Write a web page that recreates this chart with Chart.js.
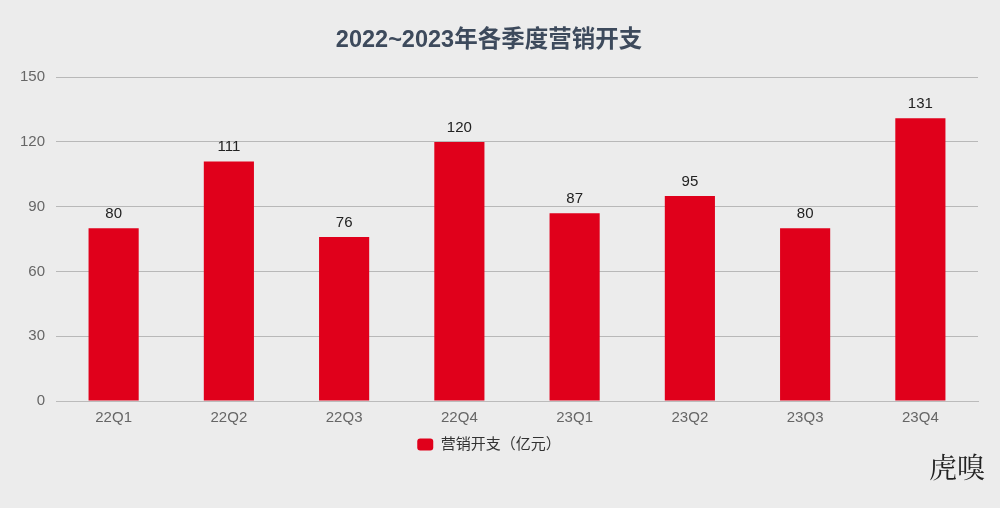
<!DOCTYPE html>
<html><head><meta charset="utf-8">
<script src="https://cdn.jsdelivr.net/npm/chart.js@4"></script>
<style>
html,body{margin:0;padding:0;background:#ececec;}
#wrap{position:relative;width:1000px;height:508px;}
#wm{position:absolute;left:929px;top:446px;font-family:"Noto Serif CJK SC","Noto Sans CJK SC",serif;font-size:28px;color:#222;}
</style></head><body>
<div id="wrap"><canvas id="c" width="1000" height="508"></canvas><div id="wm">虎嗅</div></div>
<script>
const categories=["22Q1","22Q2","22Q3","22Q4","23Q1","23Q2","23Q3","23Q4"];
const values=[80,111,76,120,87,95,80,131];
const yTicks=[0,30,60,90,120,150];
const font='"Liberation Sans","Noto Sans CJK SC",sans-serif';
const labelPlugin={id:'lbl',afterDatasetsDraw(ch){const ctx=ch.ctx;const m=ch.getDatasetMeta(0);ctx.save();ctx.font='15px '+font;ctx.fillStyle='#222';ctx.textAlign='center';ctx.textBaseline='bottom';m.data.forEach((b,i)=>ctx.fillText(values[i],b.x,b.y-7));ctx.restore();}};
new Chart(document.getElementById('c'),{type:'bar',
data:{labels:categories,datasets:[{label:'营销开支（亿元）',data:values,backgroundColor:'#e0001b',barPercentage:0.87,categoryPercentage:0.5}]},
options:{responsive:false,animation:false,
layout:{padding:{left:0,right:22,top:0,bottom:46}},
plugins:{title:{display:true,text:'2022~2023年各季度营销开支',color:'#3d4a5c',font:{family:font,size:23.5,weight:'bold'},padding:{top:26,bottom:23}},
legend:{position:'bottom',labels:{color:'#333',font:{family:font,size:15},boxWidth:16,boxHeight:12,useBorderRadius:true,borderRadius:3,padding:10}},tooltip:{enabled:false}},
scales:{x:{grid:{display:false},border:{color:'#bbb'},ticks:{color:'#666',font:{family:font,size:15},padding:0}},
y:{min:0,max:150,afterFit(s){s.width=56;},afterBuildTicks(s){s.ticks=yTicks.map(v=>({value:v}));},
grid:{color:'#b8b8b8',drawTicks:false},border:{display:false},ticks:{color:'#666',font:{family:font,size:15},padding:11}}}},
plugins:[labelPlugin]});
</script></body></html>
